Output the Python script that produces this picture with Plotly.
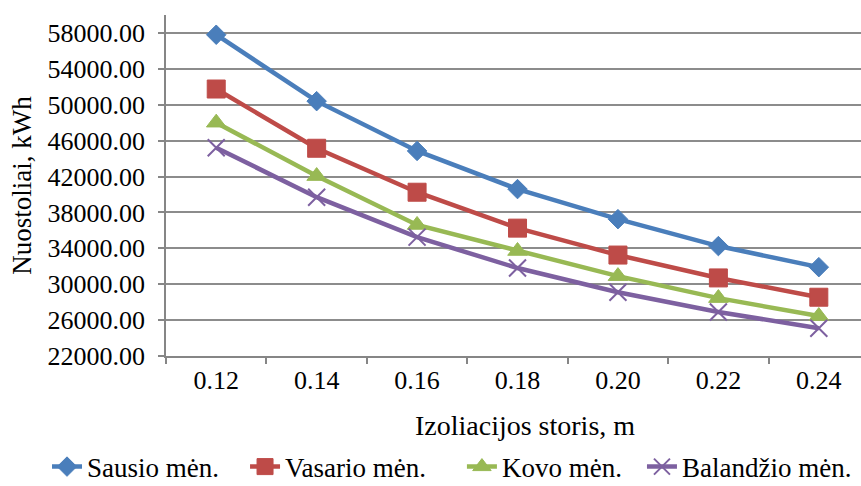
import plotly.graph_objects as go

categories = ["0.12", "0.14", "0.16", "0.18", "0.20", "0.22", "0.24"]
sausio = [57800, 50400, 44850, 40600, 37250, 34250, 31900]
vasario = [51750, 45150, 40250, 36250, 33250, 30700, 28550]
kovo = [48000, 42050, 36600, 33700, 30900, 28450, 26450]
balandzio = [45200, 39700, 35250, 31800, 29100, 26900, 25100]

series = [
    ("Sausio mėn.", sausio, "#4A7EBB", "diamond", 15, 1),
    ("Vasario mėn.", vasario, "#BE4B48", "square", 18, 1),
    ("Kovo mėn.", kovo, "#98B954", "triangle-up", 17, 1),
    ("Balandžio mėn.", balandzio, "#7D60A0", "x-thin", 17, 2),
]
legend_ids = ["legend", "legend2", "legend3", "legend4"]
legend_x = [0.0546, 0.2846, 0.5365, 0.7456]

FONT = "Liberation Serif, Times New Roman, serif"

fig = go.Figure()
for (name, vals, color, sym, size, lw), lid in zip(series, legend_ids):
    fig.add_trace(go.Scatter(
        x=categories, y=vals, name=name, mode="lines+markers",
        line=dict(color=color, width=4.5),
        marker=dict(symbol=sym, size=size, color=color,
                    line=dict(color=color, width=lw)),
        legend=lid,
    ))

legend_common = dict(orientation="h", xref="container", yref="container",
                     xanchor="left", y=0.039, yanchor="middle",
                     font=dict(size=27), itemwidth=30,
                     bgcolor="rgba(0,0,0,0)")
legends = {lid: dict(legend_common, x=lx) for lid, lx in zip(legend_ids, legend_x)}

fig.update_layout(
    width=861, height=486,
    margin=dict(l=166, r=0, t=15, b=130),
    paper_bgcolor="white", plot_bgcolor="white",
    font=dict(family=FONT, size=26, color="black"),
    showlegend=True,
    annotations=[dict(
        text="Izoliacijos storis, m", xref="paper", yref="paper",
        x=0.517, y=-0.205, xanchor="center", yanchor="middle",
        showarrow=False, font=dict(size=28),
    )],
    **legends,
)
fig.update_xaxes(
    type="category", range=[-0.5, 6.42],
    showline=True, linecolor="#868686", linewidth=1.5,
    ticks="outside", tickson="boundaries", ticklen=6, tickcolor="#868686", tickwidth=1.5,
    showgrid=False,
    tickfont=dict(size=26),
    automargin=False,
)
fig.update_yaxes(
    range=[22000, 60000], tick0=22000, dtick=4000, tickformat=".2f",
    showline=True, linecolor="#868686", linewidth=1.5,
    ticks="outside", ticklen=6, tickcolor="#868686", tickwidth=1.5,
    ticklabelstandoff=8,
    showgrid=True, gridcolor="#8C8C8C", gridwidth=1.5,
    zeroline=False,
    title=dict(text="Nuostoliai, kWh", standoff=8, font=dict(size=27)),
    tickfont=dict(size=26),
    automargin=False,
)

fig.write_html(
    "out.html",
    config={"displayModeBar": False},
    post_script="document.body.style.margin='0';document.documentElement.style.overflow='hidden';",
)
